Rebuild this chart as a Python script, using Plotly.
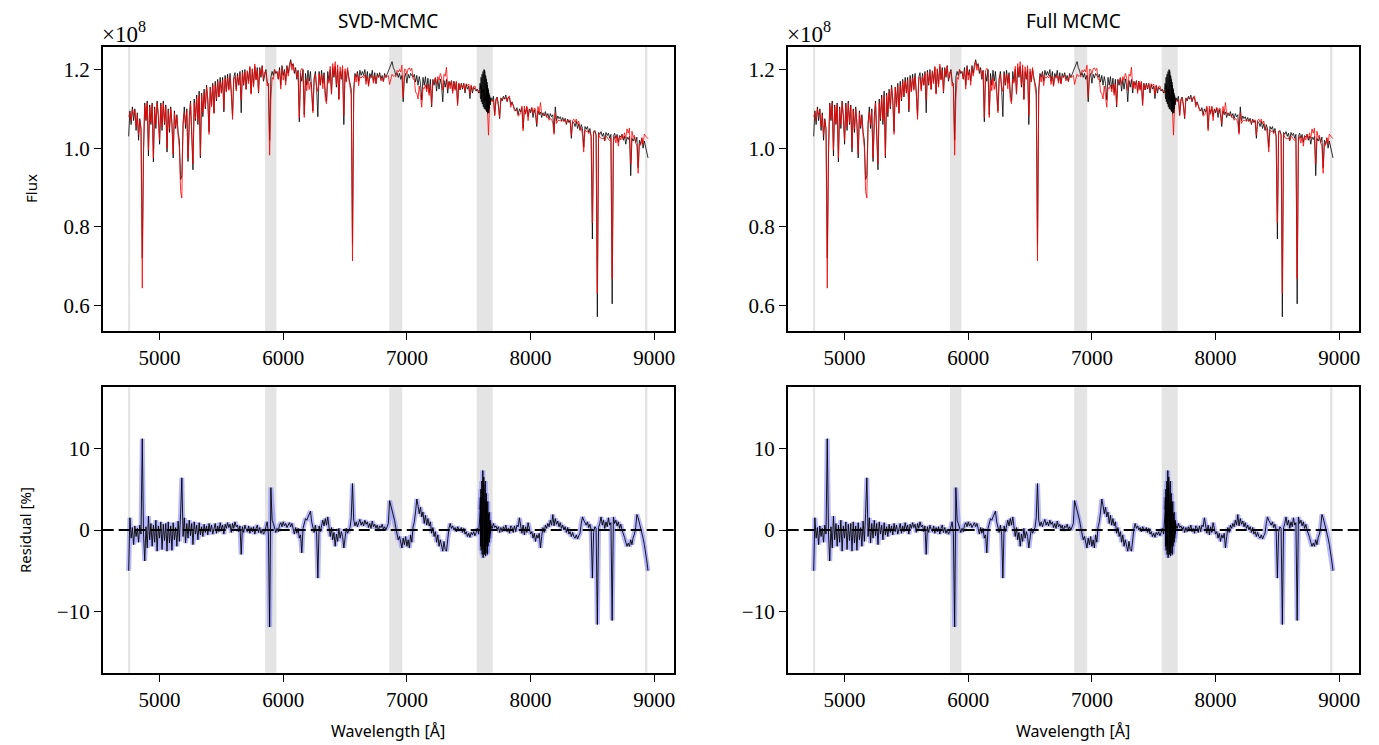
import numpy as np
import plotly.graph_objects as go

# ---------------- data ----------------
wavelength = np.arange(4750, 8951, 10)  # Angstrom grid, 10 A steps

# observed flux (x1e8)
flux_obs = [
    1.030, 1.095, 1.060, 1.105, 1.070, 1.100, 1.045, 1.090, 1.020, 1.075,
    1.050, 0.720, 0.985, 1.115, 1.070, 1.120, 0.980, 1.110, 1.060, 1.115,
    0.965, 1.105, 1.050, 1.120, 1.080, 1.010, 1.115, 1.045, 1.120, 1.060,
    1.110, 0.990, 1.100, 1.040, 1.105, 1.060, 0.975, 1.095, 1.050, 1.085,
    1.040, 1.020, 0.920, 0.930, 1.060, 1.105, 1.050, 1.100, 0.966, 1.080,
    1.120, 1.050, 0.945, 1.125, 1.070, 1.135, 1.060, 1.145, 0.975, 1.140,
    1.080, 1.150, 1.100, 1.160, 1.120, 1.042, 1.155, 1.110, 1.165, 1.090,
    1.170, 1.120, 1.175, 1.130, 1.180, 1.140, 1.180, 1.092, 1.185, 1.145,
    1.188, 1.150, 1.190, 1.140, 1.082, 1.180, 1.192, 1.150, 1.190, 1.160,
    1.195, 1.090, 1.198, 1.160, 1.200, 1.150, 1.195, 1.170, 1.205, 1.140,
    1.200, 1.160, 1.208, 1.175, 1.205, 1.140, 1.205, 1.180, 1.210, 1.170,
    1.190, 1.200, 1.170, 1.160, 1.020, 1.180, 1.195, 1.185, 1.200, 1.190,
    1.195, 1.175, 1.205, 1.160, 1.210, 1.185, 1.200, 1.170, 1.210, 1.190,
    1.212, 1.225, 1.208, 1.215, 1.190, 1.205, 1.175, 1.198, 1.067, 1.190,
    1.170, 1.200, 1.085, 1.190, 1.160, 1.198, 1.170, 1.195, 1.150, 1.095,
    1.175, 1.195, 1.150, 1.080, 1.195, 1.160, 1.198, 1.165, 1.192, 1.140,
    1.120, 1.195, 1.170, 1.200, 1.140, 1.205, 1.180, 1.208, 1.155, 1.200,
    1.125, 1.195, 1.175, 1.200, 1.060, 1.195, 1.170, 1.200, 1.180, 1.160,
    1.150, 0.755, 1.150, 1.190, 1.180, 1.195, 1.170, 1.198, 1.185, 1.195,
    1.185, 1.200, 1.170, 1.195, 1.160, 1.190, 1.180, 1.198, 1.170, 1.192,
    1.165, 1.190, 1.180, 1.192, 1.175, 1.185, 1.170, 1.190, 1.180, 1.188,
    1.195, 1.205, 1.210, 1.220, 1.205, 1.198, 1.185, 1.192, 1.180, 1.190,
    1.175, 1.185, 1.118, 1.180, 1.190, 1.165, 1.188, 1.178, 1.190, 1.185,
    1.180, 1.188, 1.168, 1.185, 1.160, 1.182, 1.165, 1.122, 1.180, 1.160,
    1.182, 1.150, 1.178, 1.140, 1.175, 1.105, 1.175, 1.160, 1.178, 1.145,
    1.175, 1.150, 1.176, 1.160, 1.118, 1.172, 1.155, 1.175, 1.140, 1.170,
    1.160, 1.172, 1.145, 1.170, 1.150, 1.168, 1.112, 1.165, 1.148, 1.165,
    1.150, 1.165, 1.140, 1.162, 1.150, 1.158, 1.126, 1.158, 1.140, 1.155,
    1.150, 1.145, 1.150, 1.140, 1.150, 1.160, 1.140, 1.150, 1.120, 1.130,
    1.095, 1.090, 1.115, 1.128, 1.120, 1.132, 1.085, 1.125, 1.130, 1.110,
    1.075, 1.128, 1.120, 1.132, 1.125, 1.135, 1.118, 1.130, 1.128, 1.110,
    1.118, 1.105, 1.100, 1.095, 1.103, 1.085, 1.100, 1.092, 1.103, 1.050,
    1.100, 1.090, 1.104, 1.080, 1.100, 1.090, 1.102, 1.078, 1.098, 1.085,
    1.055, 1.095, 1.085, 1.092, 1.078, 1.090, 1.082, 1.093, 1.080, 1.088,
    1.075, 1.088, 1.080, 1.085, 1.040, 1.105, 1.070, 1.082, 1.075, 1.080,
    1.070, 1.078, 1.068, 1.076, 1.060, 1.074, 1.065, 1.070, 1.025, 1.068,
    1.065, 1.055, 1.068, 1.050, 1.062, 1.045, 1.060, 1.050, 1.002, 1.055,
    1.048, 1.055, 1.040, 1.050, 1.030, 0.769, 1.040, 1.045, 1.035, 0.571,
    1.040, 1.035, 1.042, 1.030, 1.038, 1.020, 1.040, 1.032, 1.038, 1.025,
    1.035, 0.604, 1.030, 1.038, 1.025, 1.035, 1.015, 1.032, 1.028, 1.035,
    1.020, 1.030, 1.010, 1.028, 1.022, 1.030, 0.930, 1.025, 1.018, 1.028,
    1.015, 1.028, 0.950, 1.020, 1.010, 1.025, 1.000, 1.018, 1.005, 0.990,
    0.975,
]

# best-fit model flux (x1e8)
flux_model = [
    1.080, 1.090, 1.070, 1.100, 1.085, 1.095, 1.055, 1.085, 1.035, 1.070,
    1.045, 0.644, 1.000, 1.110, 1.075, 1.115, 0.995, 1.105, 1.065, 1.110,
    0.975, 1.100, 1.060, 1.115, 1.085, 1.020, 1.110, 1.055, 1.115, 1.065,
    1.105, 1.000, 1.095, 1.050, 1.100, 1.065, 0.985, 1.090, 1.055, 1.080,
    1.030, 1.000, 0.890, 0.873, 1.065, 1.090, 1.060, 1.095, 0.975, 1.070,
    1.115, 1.045, 0.960, 1.115, 1.075, 1.128, 1.070, 1.135, 0.980, 1.135,
    1.090, 1.142, 1.105, 1.155, 1.125, 1.035, 1.155, 1.105, 1.160, 1.088,
    1.160, 1.125, 1.170, 1.132, 1.170, 1.140, 1.173, 1.098, 1.177, 1.143,
    1.178, 1.147, 1.182, 1.143, 1.073, 1.178, 1.180, 1.145, 1.183, 1.162,
    1.189, 1.123, 1.193, 1.163, 1.193, 1.149, 1.197, 1.164, 1.208, 1.137,
    1.202, 1.155, 1.214, 1.173, 1.198, 1.143, 1.201, 1.185, 1.209, 1.176,
    1.194, 1.195, 1.158, 1.165, 0.982, 1.125, 1.180, 1.175, 1.198, 1.194,
    1.193, 1.177, 1.198, 1.150, 1.205, 1.173, 1.194, 1.160, 1.206, 1.183,
    1.201, 1.220, 1.198, 1.213, 1.196, 1.201, 1.180, 1.196, 1.078, 1.197,
    1.203, 1.198, 1.078, 1.173, 1.146, 1.179, 1.149, 1.168, 1.138, 1.090,
    1.179, 1.188, 1.156, 1.144, 1.189, 1.162, 1.188, 1.151, 1.186, 1.124,
    1.113, 1.176, 1.165, 1.208, 1.137, 1.215, 1.184, 1.220, 1.161, 1.212,
    1.123, 1.207, 1.177, 1.210, 1.083, 1.202, 1.168, 1.205, 1.179, 1.157,
    1.133, 0.713, 1.136, 1.184, 1.168, 1.190, 1.159, 1.182, 1.178, 1.183,
    1.179, 1.186, 1.162, 1.183, 1.157, 1.180, 1.178, 1.185, 1.165, 1.184,
    1.163, 1.183, 1.181, 1.186, 1.171, 1.177, 1.169, 1.185, 1.180, 1.182,
    1.185, 1.162, 1.174, 1.188, 1.183, 1.184, 1.181, 1.198, 1.194, 1.200,
    1.194, 1.211, 1.129, 1.201, 1.200, 1.188, 1.202, 1.204, 1.197, 1.203,
    1.175, 1.176, 1.142, 1.140, 1.125, 1.158, 1.132, 1.104, 1.154, 1.151,
    1.161, 1.143, 1.162, 1.134, 1.163, 1.109, 1.171, 1.169, 1.180, 1.162,
    1.182, 1.173, 1.190, 1.181, 1.147, 1.188, 1.183, 1.206, 1.151, 1.168,
    1.151, 1.170, 1.139, 1.170, 1.147, 1.170, 1.108, 1.164, 1.149, 1.162,
    1.153, 1.163, 1.146, 1.164, 1.159, 1.163, 1.136, 1.161, 1.147, 1.157,
    1.158, 1.148, 1.148, 1.146, 1.140, 1.145, 1.150, 1.140, 1.135, 1.125,
    1.110, 1.033, 1.120, 1.122, 1.118, 1.123, 1.082, 1.119, 1.129, 1.106,
    1.078, 1.125, 1.122, 1.127, 1.125, 1.128, 1.120, 1.128, 1.133, 1.104,
    1.115, 1.108, 1.095, 1.097, 1.096, 1.081, 1.084, 1.090, 1.107, 1.044,
    1.107, 1.086, 1.107, 1.070, 1.099, 1.095, 1.104, 1.089, 1.102, 1.100,
    1.061, 1.106, 1.089, 1.116, 1.087, 1.087, 1.085, 1.086, 1.078, 1.079,
    1.071, 1.075, 1.074, 1.064, 1.035, 1.090, 1.063, 1.070, 1.071, 1.070,
    1.068, 1.072, 1.068, 1.072, 1.063, 1.071, 1.070, 1.072, 1.033, 1.071,
    1.074, 1.066, 1.074, 1.062, 1.069, 1.049, 1.052, 1.033, 0.990, 1.046,
    1.042, 1.044, 1.037, 1.043, 1.030, 0.810, 1.043, 1.041, 1.033, 0.630,
    1.037, 1.027, 1.025, 1.024, 1.026, 1.018, 1.030, 1.028, 1.022, 1.019,
    1.026, 0.668, 1.014, 1.030, 1.013, 1.030, 1.005, 1.030, 1.021, 1.035,
    1.024, 1.039, 1.025, 1.049, 1.038, 1.051, 0.960, 1.043, 1.027, 1.033,
    1.012, 1.008, 0.936, 1.011, 1.007, 1.027, 1.010, 1.036, 1.031, 1.028,
    1.024,
]

# residual (percent)
residual = [
    -5.0, 1.5, -1.0, 0.3, -1.8, 0.5, -0.8, 0.2, -1.5, 0.6,
    -0.5, 11.2, -0.5, -3.8, 0.4, -2.2, 1.7, -1.2, 0.8, -2.0,
    0.6, -1.5, 1.2, -2.6, 0.5, -1.0, 1.0, -2.4, 0.7, -1.3,
    0.8, -2.6, 1.0, -1.6, 0.5, -2.5, 0.9, -1.2, 0.3, -2.0,
    1.1, -1.4, 2.0, 6.4, -0.8, 1.5, -1.6, 0.8, -1.0, 1.2,
    -0.7, 0.8, -1.8, 1.0, -0.5, 0.6, -1.2, 0.9, -0.6, 0.4,
    -0.8, 0.7, -0.3, 0.5, -0.6, 0.8, -0.2, 0.6, -0.5, 0.3,
    0.8, -0.4, 0.5, -0.2, 0.9, 0.1, 0.6, -0.5, 0.7, 0.2,
    0.9, 0.3, 0.7, -0.3, 0.8, 0.2, 1.0, 0.4, 0.6, -0.2,
    0.5, -3.0, 0.4, -0.3, 0.6, 0.1, -0.2, 0.5, -0.4, 0.3,
    -0.2, 0.4, -0.5, 0.2, 0.6, -0.3, 0.3, -0.4, 0.1, -0.5,
    -0.3, 0.4, 1.0, -0.4, -11.9, 5.2, 1.2, 0.8, 0.2, -0.3,
    0.2, -0.2, 0.6, 0.9, 0.4, 1.0, 0.5, 0.8, 0.3, 0.6,
    0.9, 0.4, 0.8, 0.2, -0.5, 0.3, -0.4, 0.2, -1.0, -0.6,
    -2.8, 0.2, 0.8, 1.4, 1.2, 1.6, 1.8, 2.3, 1.0, 0.4,
    -0.3, 0.6, -0.5, -5.9, 0.5, -0.2, 0.8, 1.2, 0.5, 1.4,
    0.6, 1.6, 0.4, -0.8, 0.3, -1.2, -0.3, -2.0, -0.5, -1.4,
    0.2, -1.0, -0.2, -0.8, -2.2, -0.6, 0.2, -0.4, 0.1, 0.3,
    1.5, 5.7, 1.2, 0.5, 1.0, 0.4, 0.9, 1.3, 0.6, 1.0,
    0.5, 1.2, 0.7, 1.0, 0.3, 0.8, 0.2, 1.1, 0.4, 0.7,
    0.2, 0.6, -0.1, 0.5, 0.3, 0.7, 0.1, 0.4, 0.0, 0.5,
    0.8, 3.6, 3.0, 2.6, 1.8, 1.2, 0.3, -0.5, -1.2, -0.8,
    -1.6, -2.2, -1.0, -1.8, -0.8, -2.0, -1.2, -2.2, -0.6, -1.5,
    0.4, 1.0, 2.2, 3.8, 3.0, 2.0, 2.8, 1.6, 2.2, 0.8,
    1.8, 0.6, 1.4, 0.5, 1.0, -0.4, 0.3, -0.8, -0.2, -1.5,
    -0.6, -2.0, -1.2, -1.8, -2.6, -1.4, -2.4, -2.6, -1.0, 0.2,
    0.8, 0.2, 0.5, 0.0, 0.3, -0.2, 0.4, 0.1, -0.1, 0.3,
    -0.3, 0.2, -0.5, -0.2, -0.8, -0.4, -0.9, -0.3, -0.6, -0.2,
    -0.7, -0.3, 0.2, -0.5, 2.5, 4.0, -2.0, 5.5, -1.5, 3.5,
    -3.0, 2.0, -1.0, 0.5, 0.2, 0.8, 0.3, 0.5, 0.1, 0.4,
    -0.3, 0.3, -0.2, 0.4, 0.0, 0.6, -0.2, 0.2, -0.4, 0.5,
    0.3, -0.3, 0.5, -0.2, 0.6, 0.4, 1.5, 0.2, -0.4, 0.6,
    -0.6, 0.4, -0.3, 0.9, 0.1, -0.5, -0.2, -1.0, -0.4, -1.4,
    -0.6, -1.0, -0.4, -2.2, -0.8, 0.3, -0.3, 0.6, 0.2, 0.8,
    0.4, 1.2, 0.6, 1.9, 0.5, 1.4, 0.7, 1.1, 0.4, 0.9,
    0.2, 0.6, 0.0, 0.4, -0.3, 0.3, -0.5, -0.2, -0.8, -0.3,
    -0.8, -1.0, -0.6, -1.1, -0.7, -0.4, 0.8, 1.6, 1.2, 0.9,
    0.6, 1.0, 0.3, 0.7, 0.0, -5.9, -0.3, 0.4, 0.2, -11.6,
    0.3, 0.8, 1.6, 0.6, 1.2, 0.2, 1.0, 0.4, 1.5, 0.6,
    0.9, -11.1, 1.6, 0.8, 1.2, 0.5, 1.0, 0.2, 0.7, 0.0,
    -0.4, -0.9, -1.5, -2.0, -1.6, -2.0, -1.2, -1.8, -0.9, -0.5,
    0.3, 1.9, 1.5, 0.9, 0.3, -0.2, -1.0, -1.8, -2.6, -3.8,
    -5.0,
]

# telluric O2 A-band, sampled finely (2 A)
aband_wl = np.arange(7590, 7681, 2)
aband_obs = [
    1.150, 1.165, 1.130, 1.172, 1.125, 1.180, 1.118, 1.175, 1.130, 1.188,
    1.112, 1.182, 1.120, 1.195, 1.105, 1.190, 1.115, 1.200, 1.100, 1.198,
    1.110, 1.192, 1.098, 1.185, 1.105, 1.180, 1.095, 1.175, 1.092, 1.168,
    1.100, 1.160, 1.088, 1.152, 1.095, 1.148, 1.090, 1.140, 1.100, 1.135,
    1.105, 1.130, 1.110, 1.128, 1.115, 1.128,
]
aband_res = [
    2.5, -1.5, 4.0, -2.0, 5.0, -2.5, 3.5, -1.0, 6.0, -3.0,
    4.5, -2.0, 7.3, -3.4, 5.5, -2.8, 6.5, -2.0, 5.0, -3.0,
    4.0, -2.5, 6.0, -3.2, 3.5, -2.0, 4.5, -1.5, 3.0, -2.8,
    2.5, -1.0, 3.5, -2.0, 2.0, -1.2, 1.5, -0.8, 2.2, -1.5,
    1.0, -0.5, 1.2, -0.3, 0.8, 0.2,
]

# masked wavelength windows (grey bands)
mask_lo = [4745, 5853, 6857, 7564, 8925]
mask_hi = [4762, 5945, 6962, 7694, 8945]

titles = ["SVD-MCMC", "Full MCMC"]
x_ticks = [5000, 6000, 7000, 8000, 9000]
flux_ticks = [0.6, 0.8, 1.0, 1.2]
flux_ticktext = ["0.6", "0.8", "1.0", "1.2"]
res_ticks = [-10, 0, 10]
res_ticktext = ["\u221210", "0", "10"]

assert len(flux_obs) == len(wavelength)
assert len(flux_model) == len(wavelength)
assert len(residual) == len(wavelength)
assert len(aband_obs) == len(aband_wl) == len(aband_res)

# ---------------- figure ----------------
W, H = 1379, 745
col_dom = [[102.7 / W, 674.0 / W], [787.7 / W, 1359.0 / W]]
top_dom = [1 - 331.0 / H, 1 - 46.7 / H]
bot_dom = [1 - 672.7 / H, 1 - 387.3 / H]

SERIF = "Liberation Serif"
SANS = "Noto Sans"

fig = go.Figure()

axis_common = dict(
    showline=True, linecolor="black", linewidth=1.6, mirror=True,
    ticks="outside", ticklen=7, tickwidth=1.3, tickcolor="black",
    showgrid=False, zeroline=False,
    tickfont=dict(family=SERIF, size=21, color="black"),
)

layout = dict(
    width=W, height=H,
    margin=dict(l=0, r=0, t=0, b=0),
    paper_bgcolor="white", plot_bgcolor="white",
    showlegend=False,
)

shapes = []
annotations = []

for c in range(2):
    xt = 1 + c          # top axes index
    xb = 3 + c          # bottom axes index
    for idx, ydom in ((xt, top_dom), (xb, bot_dom)):
        xs = "xaxis" if idx == 1 else f"xaxis{idx}"
        ys = "yaxis" if idx == 1 else f"yaxis{idx}"
        yname = "y" if idx == 1 else f"y{idx}"
        xname = "x" if idx == 1 else f"x{idx}"
        layout[xs] = dict(axis_common, domain=col_dom[c], anchor=yname,
                          range=[4540, 9160], tickvals=x_ticks,
                          ticktext=[str(v) for v in x_ticks])
        if idx in (1, 2):
            layout[ys] = dict(axis_common, domain=ydom, anchor=xname,
                              range=[0.535, 1.258], tickvals=flux_ticks,
                              ticktext=flux_ticktext)
        else:
            layout[ys] = dict(axis_common, domain=ydom, anchor=xname,
                              range=[-17.5, 17.5], tickvals=res_ticks,
                              ticktext=res_ticktext)
        for lo, hi in zip(mask_lo, mask_hi):
            shapes.append(dict(type="rect", xref=xname, yref=f"{yname} domain",
                               x0=lo, x1=hi, y0=0, y1=1,
                               fillcolor="rgb(228,228,228)", line=dict(width=0),
                               layer="below"))

    xn_t = "x" if xt == 1 else f"x{xt}"
    yn_t = "y" if xt == 1 else f"y{xt}"
    xn_b = f"x{xb}"
    yn_b = f"y{xb}"

    # top: data (black) and model (red)
    fig.add_trace(go.Scatter(x=wavelength, y=flux_obs, mode="lines",
                             line=dict(color="black", width=0.8),
                             xaxis=xn_t, yaxis=yn_t))
    fig.add_trace(go.Scatter(x=wavelength, y=flux_model, mode="lines",
                             line=dict(color="rgb(255,0,0)", width=0.8),
                             xaxis=xn_t, yaxis=yn_t))
    fig.add_trace(go.Scatter(x=aband_wl, y=aband_obs, mode="lines",
                             line=dict(color="black", width=0.8),
                             xaxis=xn_t, yaxis=yn_t))

    # bottom: residual with light-blue uncertainty halo
    for xx, yy in ((wavelength, residual), (aband_wl, aband_res)):
        fig.add_trace(go.Scatter(x=xx, y=yy, mode="lines",
                                 line=dict(color="rgba(125,125,255,0.55)", width=5),
                                 xaxis=xn_b, yaxis=yn_b))
    for xx, yy in ((wavelength, residual), (aband_wl, aband_res)):
        fig.add_trace(go.Scatter(x=xx, y=yy, mode="lines",
                                 line=dict(color="black", width=0.9),
                                 xaxis=xn_b, yaxis=yn_b))

    shapes.append(dict(type="line", xref=f"{xn_b} domain", yref=yn_b,
                       x0=0, x1=1, y0=0, y1=0,
                       line=dict(color="black", width=2, dash="11px,5px"),
                       layer="above"))

    xc = (col_dom[c][0] + col_dom[c][1]) / 2
    annotations.append(dict(text=titles[c], x=xc, y=1 - 21 / H, xref="paper",
                            yref="paper", showarrow=False, xanchor="center",
                            yanchor="middle",
                            font=dict(family=SANS, size=19, color="black")))
    annotations.append(dict(text="\u00d710<sup>8</sup>", x=col_dom[c][0] - 3 / W,
                            y=1 - 32 / H, xref="paper", yref="paper",
                            showarrow=False, xanchor="left", yanchor="middle",
                            font=dict(family=SERIF, size=23, color="black")))
    annotations.append(dict(text="Wavelength [\u00c5]", x=xc, y=1 - 731 / H,
                            xref="paper", yref="paper", showarrow=False,
                            xanchor="center", yanchor="middle",
                            font=dict(family=SANS, size=16, color="black")))

annotations.append(dict(text="Flux", x=31 / W, y=1 - 189 / H, xref="paper",
                        yref="paper", showarrow=False, textangle=-90,
                        xanchor="center", yanchor="middle",
                        font=dict(family=SANS, size=15, color="black")))
annotations.append(dict(text="Residual [%]", x=25 / W, y=1 - 530 / H,
                        xref="paper", yref="paper", showarrow=False,
                        textangle=-90, xanchor="center", yanchor="middle",
                        font=dict(family=SANS, size=15, color="black")))

layout["shapes"] = shapes
layout["annotations"] = annotations
fig.update_layout(**layout)

fig.write_html(
    "out.html",
    config={"displayModeBar": False},
    post_script="document.body.style.margin='0px';document.body.style.overflow='hidden';",
)
